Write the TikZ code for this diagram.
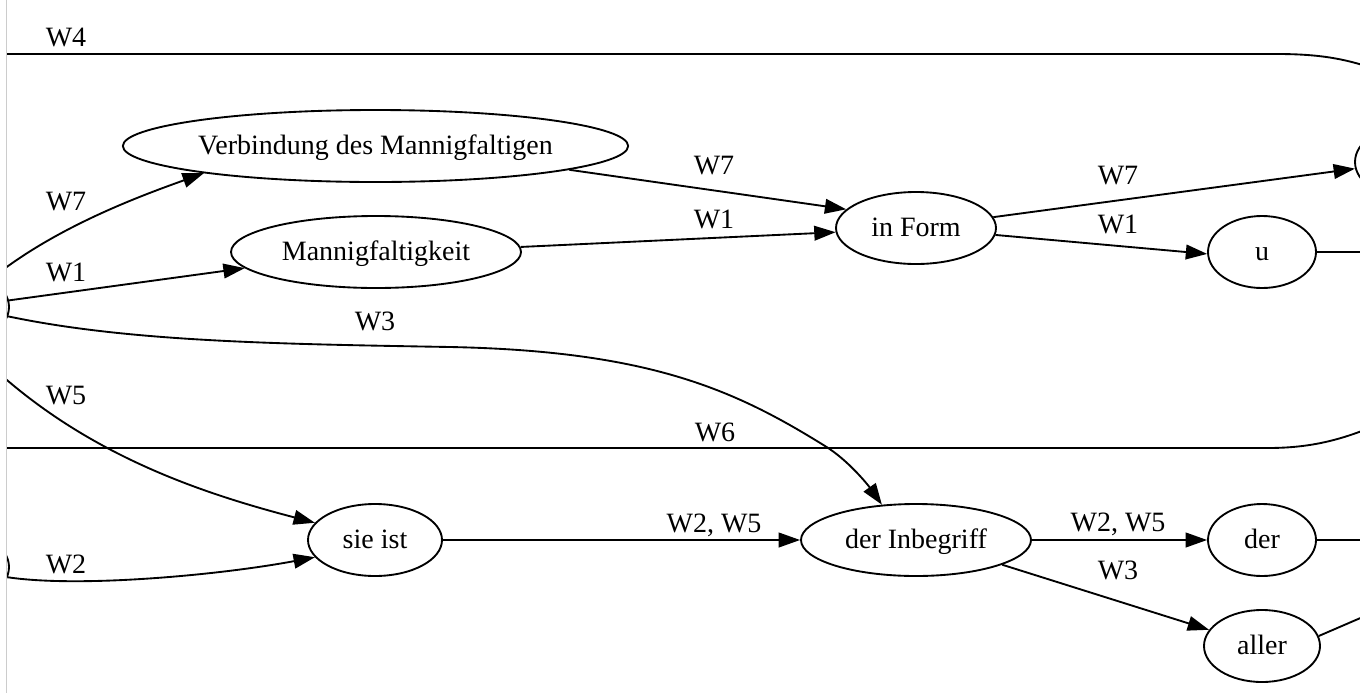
\documentclass[tikz,border=0pt]{standalone}
\usepackage{fontspec}
\setmainfont{Liberation Serif}
\usetikzlibrary{shapes.geometric,arrows.meta}
\begin{document}
\begin{tikzpicture}[x=0.75pt,y=-0.75pt,
  every node/.style={font=\fontsize{21}{25}\selectfont},
  nd/.style={ellipse,draw,line width=1.4pt,inner sep=0pt,minimum height=54pt,text height=13.5pt,text depth=1pt},
  lbl/.style={anchor=base,inner sep=0pt},
  edge/.style={line width=1.4pt,-{Triangle[length=16pt,width=11pt]}},
  plain/.style={line width=1.4pt}]
\useasboundingbox (0,0) rectangle (1360,693);
\draw[gray!40,line width=1pt] (6.5,0) -- (6.5,693);
\begin{scope}
\clip (7.2,0) rectangle (1360,693);
% nodes
\node[nd,minimum width=379pt] (Verb) at (375.5,146) {Verbindung des Mannigfaltigen};
\node[nd,minimum width=217.5pt] (Mann) at (376,252) {Mannigfaltigkeit};
\node[nd,minimum width=120pt] (inForm) at (916,228) {in Form};
\node[nd,minimum width=81pt] (u) at (1262,252) {u};
\node[nd,minimum width=81pt] (R1) at (1409,162) {};
\node[nd,minimum width=100.5pt] (sieist) at (375,540) {sie ist};
\node[nd,minimum width=172.5pt] (Inbeg) at (916,540) {der Inbegriff};
\node[nd,minimum width=81pt] (der) at (1262,540) {der};
\node[nd,minimum width=87pt] (aller) at (1262,646) {aller};
\node[nd,minimum width=81pt] (L1) at (-45,307) {};
\node[nd,minimum width=81pt] (L2) at (-45,567) {};
% free ends
\coordinate (w4a) at (0,54);
\coordinate (w4b) at (1372,68);
\coordinate (w6a) at (0,448);
\coordinate (w6b) at (1372,427);
\coordinate (s7) at (0,272);
\coordinate (s5) at (0,374);
\coordinate (uo) at (1372,252);
\coordinate (dero) at (1372,540);
\coordinate (allo) at (1372,613);
% edges
\draw[plain] (w4a) -- (1277,54) .. controls (1320,54) and (1345,59) .. (w4b);
\draw[plain] (w6a) -- (1268,448) .. controls (1310,448) and (1340,440) .. (w6b);
\draw[edge] (s7) .. controls (62,225) and (140,196) .. (Verb.189);
\draw[edge] (L1.7.5) -- (Mann.187);
\draw[edge] (L1.-10) .. controls (130,342) and (280,344) .. (450,347)
  .. controls (650,351) and (735,390) .. (825,446)
  .. controls (848,460) and (868,485) .. (Inbeg.134);
\draw[edge] (s5) .. controls (95,458) and (205,494) .. (sieist.164);
\draw[edge] (L2.-11) .. controls (80,588) and (220,575) .. (sieist.196);
\draw[edge] (Verb.-7) -- (inForm.165);
\draw[edge] (Mann.2) -- (inForm.183);
\draw[edge] (inForm.8) -- (R1.187);
\draw[edge] (inForm.-5) -- (u.182);
\draw[edge] (sieist.east) -- (Inbeg.west);
\draw[edge] (Inbeg.east) -- (der.west);
\draw[edge] (Inbeg.-16) -- (aller.163);
\draw[plain] (u.east) -- (uo);
\draw[plain] (der.east) -- (dero);
\draw[plain] (aller.10) -- (allo);
% labels
\node[lbl] (l4) at (66,46) {W4};
\node[lbl] (l7a) at (66,210) {W7};
\node[lbl] (l1a) at (66,281) {W1};
\node[lbl] (l5) at (66,404) {W5};
\node[lbl] (l2) at (66,573) {W2};
\node[lbl] (l3a) at (375,330) {W3};
\node[lbl] (l6) at (715,441) {W6};
\node[lbl] (l7b) at (714,174) {W7};
\node[lbl] (l1b) at (714,228) {W1};
\node[lbl] (l25a) at (714,532) {W2, W5};
\node[lbl] (l7c) at (1118,184) {W7};
\node[lbl] (l1c) at (1118,233) {W1};
\node[lbl] (l25b) at (1118,531) {W2, W5};
\node[lbl] (l3b) at (1118,579) {W3};
\end{scope}
\end{tikzpicture}
\end{document}
